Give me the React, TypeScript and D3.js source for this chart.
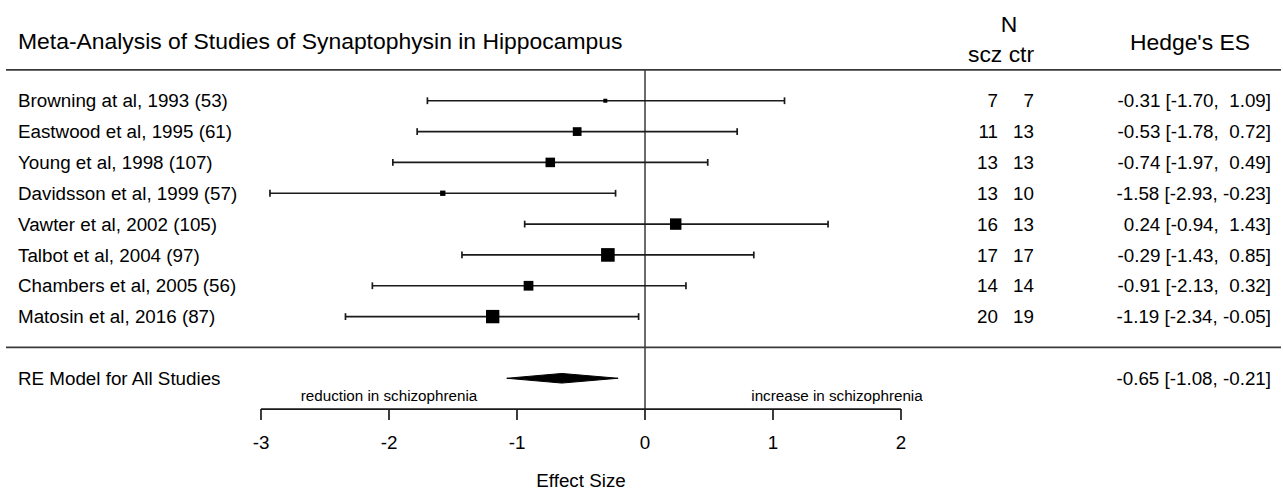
import React from "react";
import * as d3 from "d3";

const studies = [
  "Browning at al, 1993 (53)",
  "Eastwood et al, 1995 (61)",
  "Young et al, 1998 (107)",
  "Davidsson et al, 1999 (57)",
  "Vawter et al, 2002 (105)",
  "Talbot et al, 2004 (97)",
  "Chambers et al, 2005 (56)",
  "Matosin et al, 2016 (87)",
];
const nScz = [7, 11, 13, 13, 16, 17, 14, 20];
const nCtr = [7, 13, 13, 10, 13, 17, 14, 19];
const es = [-0.31, -0.53, -0.74, -1.58, 0.24, -0.29, -0.91, -1.19];
const ciLo = [-1.70, -1.78, -1.97, -2.93, -0.94, -1.43, -2.13, -2.34];
const ciHi = [1.09, 0.72, 0.49, -0.23, 1.43, 0.85, 0.32, -0.05];

const reLabel = "RE Model for All Studies";
const reEs = -0.65;
const reLo = -1.08;
const reHi = -0.21;

const xTicks = [-3, -2, -1, 0, 1, 2];
const title = "Meta-Analysis of Studies of Synaptophysin in Hippocampus";
const xLabel = "Effect Size";
const leftNote = "reduction in schizophrenia";
const rightNote = "increase in schizophrenia";
const leftNoteAt = -2;
const rightNoteAt = 1.5;

const W = 1283;
const H = 491;
const FONT = "'Liberation Sans', Arial, Helvetica, sans-serif";
const BASE = 18.8;
const BIG = 22.9;
const SMALL = 15.2;

const fmt = (v: number) => v.toFixed(2);
const fmtCi = (es: number, lo: number, hi: number) =>
  `${fmt(es)} [${fmt(lo)}, ${hi < 0 ? "" : " "}${fmt(hi)}]`;

export default function App() {
  const x = d3.scaleLinear().domain([-3, 2]).range([261, 901]);
  const y = d3.scaleLinear().domain([0, 11]).range([69.9, 409.1]);
  const weights = ciLo.map((lo, i) => {
    const se = (ciHi[i] - lo) / 3.92;
    return 1 / (se * se);
  });
  const size = d3
    .scaleLinear()
    .domain([d3.min(weights) as number, d3.max(weights) as number])
    .range([4, 13.6]);

  const axisY = y(11);
  const capH = 3.4;
  const lineCol = "#1a1a1a";
  const ruleCol = "#3a3a3a";
  const dy = 6.6;
  const sw = 1.7;

  return (
    <svg
      width={W}
      height={H}
      style={{ position: "absolute", left: 0, top: 0, background: "#fff" }}
      fontFamily={FONT}
    >
      <rect x={0} y={0} width={W} height={H} fill="#fff" />
      {/* header */}
      <text x={18} y={49} fontSize={BIG} fill="#000">{title}</text>
      <text x={1009} y={32} fontSize={BIG} textAnchor="middle" fill="#000">N</text>
      <text x={1001} y={62} fontSize={BIG} textAnchor="middle" fill="#000">scz ctr</text>
      <text x={1190} y={50} fontSize={BIG} textAnchor="middle" fill="#000">Hedge's ES</text>

      {/* rules */}
      <line x1={6} x2={1281} y1={y(0)} y2={y(0)} stroke={ruleCol} strokeWidth={1.8} />
      <line x1={6} x2={1281} y1={y(9)} y2={y(9)} stroke={ruleCol} strokeWidth={1.8} />
      <line x1={x(0)} x2={x(0)} y1={y(0)} y2={axisY} stroke={ruleCol} strokeWidth={1.5} />

      {/* studies */}
      {studies.map((s, i) => {
        const yy = y(i + 1);
        const sz = size(weights[i]);
        return (
          <g key={s}>
            <text x={18} y={yy + dy} fontSize={BASE} fill="#000">{s}</text>
            <line x1={x(ciLo[i])} x2={x(ciHi[i])} y1={yy} y2={yy} stroke={lineCol} strokeWidth={sw} />
            <line x1={x(ciLo[i])} x2={x(ciLo[i])} y1={yy - capH} y2={yy + capH} stroke={lineCol} strokeWidth={sw} />
            <line x1={x(ciHi[i])} x2={x(ciHi[i])} y1={yy - capH} y2={yy + capH} stroke={lineCol} strokeWidth={sw} />
            <rect x={x(es[i]) - sz / 2} y={yy - sz / 2} width={sz} height={sz} fill="#000" />
            <text x={998} y={yy + dy} fontSize={BASE} textAnchor="end" fill="#000">{nScz[i]}</text>
            <text x={1034} y={yy + dy} fontSize={BASE} textAnchor="end" fill="#000">{nCtr[i]}</text>
            <text x={1271} y={yy + dy} fontSize={BASE} textAnchor="end" fill="#000" style={{ whiteSpace: "pre" }}>
              {fmtCi(es[i], ciLo[i], ciHi[i])}
            </text>
          </g>
        );
      })}

      {/* summary */}
      <text x={18} y={y(10) + dy} fontSize={BASE} fill="#000">{reLabel}</text>
      <polygon
        points={[
          [x(reLo), y(10)],
          [x(reEs), y(10) - 4.8],
          [x(reHi), y(10)],
          [x(reEs), y(10) + 4.8],
        ]
          .map((p) => p.join(","))
          .join(" ")}
        fill="#000"
        stroke="#000"
        strokeWidth={1}
        strokeLinejoin="round"
      />
      <text x={1271} y={y(10) + dy} fontSize={BASE} textAnchor="end" fill="#000" style={{ whiteSpace: "pre" }}>
        {fmtCi(reEs, reLo, reHi)}
      </text>

      {/* axis */}
      <line x1={x(-3)} x2={x(2)} y1={axisY} y2={axisY} stroke={lineCol} strokeWidth={sw} />
      {xTicks.map((t) => (
        <g key={t}>
          <line x1={x(t)} x2={x(t)} y1={axisY} y2={axisY + 11} stroke={lineCol} strokeWidth={sw} />
          <text x={x(t)} y={449} fontSize={BASE} textAnchor="middle" fill="#000">{t}</text>
        </g>
      ))}
      <text x={x(leftNoteAt)} y={401} fontSize={SMALL} textAnchor="middle" fill="#000">{leftNote}</text>
      <text x={x(rightNoteAt)} y={401} fontSize={SMALL} textAnchor="middle" fill="#000">{rightNote}</text>
      <text x={x(-0.5)} y={487} fontSize={BASE} textAnchor="middle" fill="#000">{xLabel}</text>
    </svg>
  );
}
